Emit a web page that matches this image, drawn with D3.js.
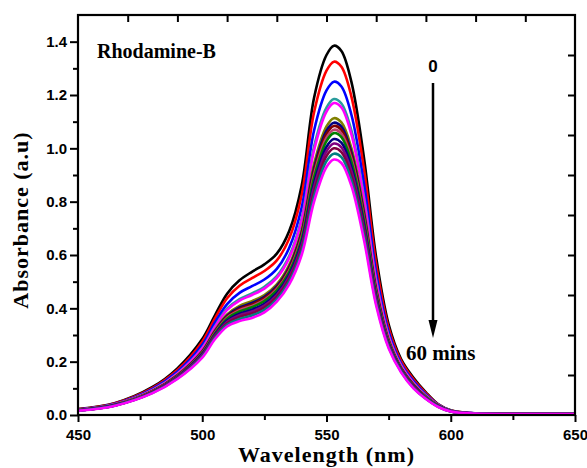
<!DOCTYPE html>
<html>
<head>
<meta charset="utf-8">
<script src="https://cdn.jsdelivr.net/npm/d3@7"></script>
<style>
  html, body { margin: 0; padding: 0; background: #fff; }
  svg { display: block; }
</style>
</head>
<body>
<svg id="chart" width="587" height="468"></svg>
<script>
// wavelength grid (nm) shared by every spectrum
const wavelengths = [450, 465, 480, 490, 500, 505, 510, 515, 520, 525, 530, 535, 540, 545, 550, 553, 556, 560, 565, 570, 575, 580, 585, 590, 595, 600, 610, 630, 650];

// absorbance spectra, 0 min (top) to 60 mins (bottom)
const curve0  = [0.022, 0.045, 0.105, 0.175, 0.285, 0.372, 0.455, 0.505, 0.537, 0.565, 0.605, 0.690, 0.860, 1.190, 1.350, 1.385, 1.365, 1.250, 0.970, 0.590, 0.340, 0.210, 0.140, 0.085, 0.040, 0.018, 0.006, 0.004, 0.004];
const curve1  = [0.021, 0.044, 0.102, 0.169, 0.275, 0.360, 0.438, 0.485, 0.513, 0.540, 0.580, 0.662, 0.824, 1.135, 1.291, 1.325, 1.306, 1.195, 0.927, 0.565, 0.327, 0.203, 0.134, 0.082, 0.039, 0.017, 0.006, 0.004, 0.004];
const curve2  = [0.020, 0.042, 0.098, 0.162, 0.263, 0.345, 0.416, 0.458, 0.483, 0.508, 0.548, 0.627, 0.778, 1.067, 1.217, 1.250, 1.232, 1.127, 0.872, 0.533, 0.312, 0.194, 0.127, 0.077, 0.038, 0.016, 0.006, 0.004, 0.004];
const curve3  = [0.019, 0.040, 0.094, 0.156, 0.252, 0.331, 0.399, 0.435, 0.456, 0.481, 0.521, 0.596, 0.738, 1.007, 1.153, 1.185, 1.168, 1.067, 0.825, 0.506, 0.298, 0.187, 0.121, 0.073, 0.037, 0.016, 0.006, 0.004, 0.004];
const curve4  = [0.019, 0.040, 0.093, 0.155, 0.250, 0.328, 0.394, 0.429, 0.450, 0.474, 0.514, 0.589, 0.729, 0.993, 1.138, 1.170, 1.153, 1.053, 0.814, 0.499, 0.295, 0.185, 0.120, 0.072, 0.037, 0.015, 0.006, 0.004, 0.004];
const curve5  = [0.018, 0.039, 0.090, 0.150, 0.240, 0.316, 0.377, 0.409, 0.427, 0.450, 0.490, 0.563, 0.694, 0.942, 1.082, 1.113, 1.097, 1.002, 0.773, 0.475, 0.283, 0.178, 0.115, 0.069, 0.036, 0.015, 0.005, 0.004, 0.004];
const curve6  = [0.018, 0.038, 0.089, 0.148, 0.238, 0.312, 0.372, 0.403, 0.420, 0.443, 0.483, 0.555, 0.684, 0.926, 1.066, 1.096, 1.081, 0.986, 0.760, 0.468, 0.279, 0.176, 0.113, 0.068, 0.035, 0.015, 0.005, 0.004, 0.004];
const curve7  = [0.018, 0.038, 0.089, 0.147, 0.236, 0.310, 0.369, 0.398, 0.415, 0.438, 0.478, 0.549, 0.677, 0.915, 1.054, 1.084, 1.069, 0.975, 0.751, 0.463, 0.277, 0.175, 0.112, 0.067, 0.035, 0.014, 0.005, 0.004, 0.004];
const curve8  = [0.018, 0.038, 0.088, 0.145, 0.233, 0.307, 0.365, 0.393, 0.409, 0.432, 0.472, 0.542, 0.668, 0.902, 1.040, 1.070, 1.055, 0.962, 0.741, 0.457, 0.274, 0.173, 0.110, 0.067, 0.034, 0.014, 0.005, 0.004, 0.004];
const curve9  = [0.017, 0.037, 0.087, 0.144, 0.231, 0.304, 0.361, 0.388, 0.404, 0.427, 0.467, 0.536, 0.660, 0.890, 1.027, 1.057, 1.042, 0.950, 0.732, 0.452, 0.271, 0.172, 0.109, 0.066, 0.034, 0.014, 0.005, 0.004, 0.004];
const curve10 = [0.017, 0.037, 0.086, 0.142, 0.228, 0.299, 0.354, 0.380, 0.395, 0.417, 0.457, 0.526, 0.647, 0.870, 1.006, 1.035, 1.021, 0.930, 0.716, 0.442, 0.266, 0.169, 0.107, 0.064, 0.033, 0.014, 0.005, 0.004, 0.004];
const curve11 = [0.017, 0.036, 0.085, 0.141, 0.225, 0.296, 0.349, 0.374, 0.388, 0.410, 0.450, 0.518, 0.636, 0.855, 0.989, 1.018, 1.004, 0.915, 0.703, 0.435, 0.263, 0.167, 0.106, 0.063, 0.032, 0.014, 0.005, 0.004, 0.004];
const curve12 = [0.017, 0.036, 0.084, 0.139, 0.222, 0.292, 0.344, 0.368, 0.381, 0.403, 0.443, 0.510, 0.625, 0.838, 0.971, 1.000, 0.986, 0.898, 0.690, 0.428, 0.259, 0.165, 0.104, 0.062, 0.031, 0.013, 0.005, 0.004, 0.004];
const curve13 = [0.016, 0.036, 0.083, 0.137, 0.219, 0.288, 0.338, 0.360, 0.373, 0.394, 0.434, 0.500, 0.614, 0.820, 0.952, 0.980, 0.967, 0.880, 0.676, 0.419, 0.255, 0.163, 0.102, 0.061, 0.031, 0.013, 0.005, 0.004, 0.004];
const curve14 = [0.016, 0.035, 0.082, 0.135, 0.215, 0.283, 0.332, 0.352, 0.364, 0.385, 0.425, 0.490, 0.600, 0.800, 0.930, 0.958, 0.945, 0.860, 0.660, 0.410, 0.250, 0.160, 0.100, 0.060, 0.030, 0.013, 0.005, 0.004, 0.004];

const curves = [curve0, curve1, curve2, curve3, curve4, curve5, curve6, curve7, curve8, curve9, curve10, curve11, curve12, curve13, curve14];
const colors = ['#000000', '#ff0000', '#0000ff', '#2a9c9c', '#ff00ff', '#808000', '#000080', '#800000', '#c04070', '#008000', '#000080', '#800080', '#800040', '#008080', '#ff00ff'];

const xTicks = [450, 500, 550, 600, 650];
const xMinorTicks = [475, 525, 575, 625];
const yTicks = [0.0, 0.2, 0.4, 0.6, 0.8, 1.0, 1.2, 1.4];
const yMinorTicks = [0.1, 0.3, 0.5, 0.7, 0.9, 1.1, 1.3];
const topTicks = [470, 490, 510, 530, 550, 570, 590, 610, 630];
const rightTicks = [0.15, 0.3, 0.45, 0.6, 0.75, 0.9, 1.05, 1.2, 1.35];

const margin = { top: 15, right: 12, bottom: 53, left: 78 };
const width = 587;
const height = 468;
const chartWidth = width - margin.left - margin.right;
const chartHeight = height - margin.top - margin.bottom;

const svg = d3.select('#chart');
const g = svg.append('g').attr('transform', `translate(${margin.left},${margin.top})`);

const xScale = d3.scaleLinear().domain([450, 650]).range([0, chartWidth]);
const yScale = d3.scaleLinear().domain([0, 1.5]).range([chartHeight, 0]);

const sans = 'Liberation Sans, Arial, sans-serif';
const serif = 'Liberation Serif, Times New Roman, serif';

// spectra
const line = d3.line()
  .x((d, i) => xScale(wavelengths[i]))
  .y((d) => yScale(d))
  .curve(d3.curveCatmullRom.alpha(0.5));

g.selectAll('.spectrum')
  .data(curves)
  .enter()
  .append('path')
  .attr('class', 'spectrum')
  .attr('fill', 'none')
  .attr('stroke', (d, i) => colors[i])
  .attr('stroke-width', 2.6)
  .attr('stroke-linejoin', 'round')
  .attr('d', line);

// axes
const xAxis = d3.axisBottom(xScale).tickValues(xTicks).tickSize(7).tickPadding(7).tickFormat(d3.format('d'));
const xMinor = d3.axisBottom(xScale).tickValues(xMinorTicks).tickSize(5).tickFormat('');
const yAxis = d3.axisLeft(yScale).tickValues(yTicks).tickSize(8).tickPadding(3).tickFormat(d3.format('.1f'));
const yMinor = d3.axisLeft(yScale).tickValues(yMinorTicks).tickSize(5).tickFormat('');
const topAxis = d3.axisBottom(xScale).tickValues(topTicks).tickSize(7).tickFormat('');
const rightAxis = d3.axisLeft(yScale).tickValues(rightTicks).tickSize(7).tickFormat('');

function styleAxis(sel) {
  sel.select('.domain').remove();
  sel.selectAll('line').attr('stroke', '#000').attr('stroke-width', 2);
  sel.selectAll('text')
    .attr('fill', '#000')
    .style('font-family', sans)
    .style('font-weight', 'bold')
    .style('font-size', '15px');
}

g.append('g').attr('transform', `translate(0,${chartHeight})`).call(xAxis).call(styleAxis);
g.append('g').attr('transform', `translate(0,${chartHeight})`).call(xMinor).call(styleAxis);
g.append('g').call(yAxis).call(styleAxis);
g.append('g').call(yMinor).call(styleAxis);
g.append('g').call(topAxis).call(styleAxis);
g.append('g').attr('transform', `translate(${chartWidth},0)`).call(rightAxis).call(styleAxis);

// frame
g.append('rect')
  .attr('x', 0)
  .attr('y', 0)
  .attr('width', chartWidth)
  .attr('height', chartHeight)
  .attr('fill', 'none')
  .attr('stroke', '#000')
  .attr('stroke-width', 2.2);

// axis titles
svg.append('text')
  .attr('x', margin.left + chartWidth / 2)
  .attr('y', 462)
  .attr('text-anchor', 'middle')
  .style('font-family', serif)
  .style('font-weight', 'bold')
  .style('font-size', '22px')
  .style('letter-spacing', '1px')
  .text('Wavelength (nm)');

svg.append('text')
  .attr('transform', `translate(28,${margin.top + chartHeight / 2 + 5}) rotate(-90)`)
  .attr('text-anchor', 'middle')
  .style('font-family', serif)
  .style('font-weight', 'bold')
  .style('font-size', '22px')
  .style('letter-spacing', '1px')
  .text('Absorbance (a.u)');

// annotations
svg.append('text')
  .attr('x', 97)
  .attr('y', 58)
  .style('font-family', serif)
  .style('font-weight', 'bold')
  .style('font-size', '20px')
  .text('Rhodamine-B');

svg.append('text')
  .attr('x', 433)
  .attr('y', 72)
  .attr('text-anchor', 'middle')
  .style('font-family', sans)
  .style('font-weight', 'bold')
  .style('font-size', '17px')
  .text('0');

svg.append('line')
  .attr('x1', 433)
  .attr('y1', 83)
  .attr('x2', 433)
  .attr('y2', 324)
  .attr('stroke', '#000')
  .attr('stroke-width', 2.5);

svg.append('path')
  .attr('d', 'M428.5,320 L437.5,320 L433,338 Z')
  .attr('fill', '#000');

svg.append('text')
  .attr('x', 406)
  .attr('y', 360)
  .style('font-family', serif)
  .style('font-weight', 'bold')
  .style('font-size', '21px')
  .text('60 mins');
</script>
</body>
</html>
